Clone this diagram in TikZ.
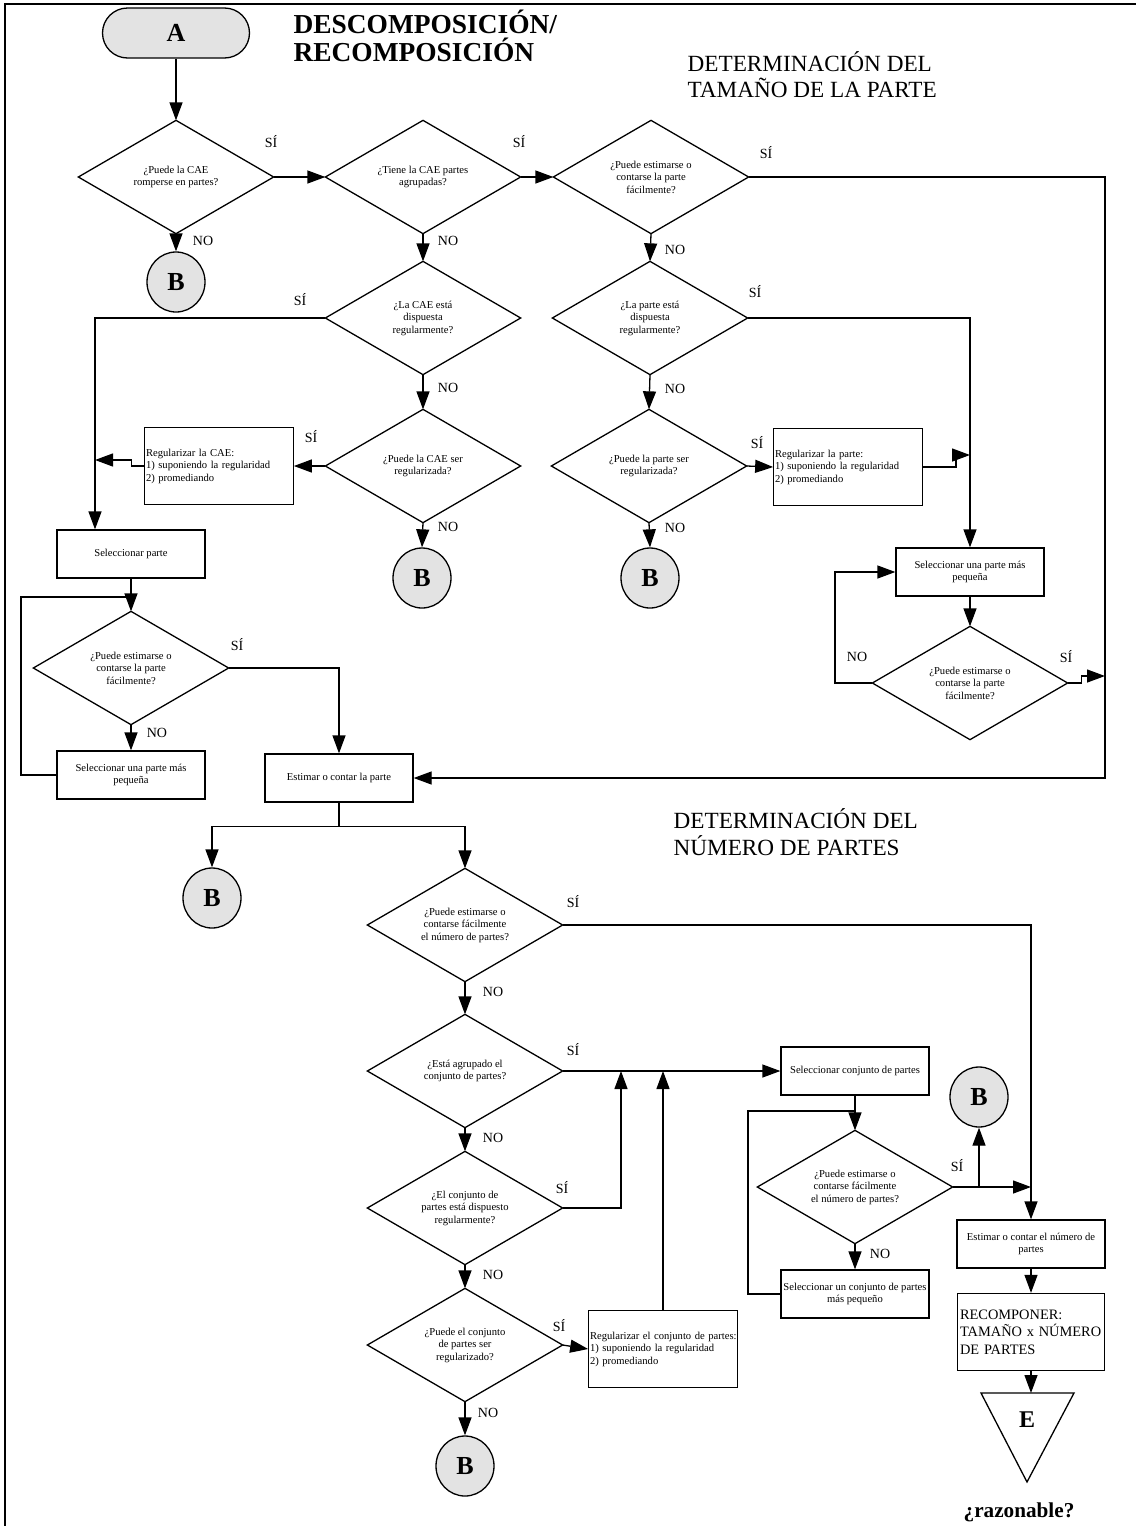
\documentclass[tikz,border=0pt]{standalone}
\usepackage{fontspec}
\setmainfont{Liberation Serif}
\usetikzlibrary{shapes.geometric,arrows.meta,calc}
\newcommand{\smtxt}{\fontsize{5.3}{6.25}\selectfont}
\begin{document}
\begin{tikzpicture}[x=0.5pt,y=-0.5pt,line width=0.65pt,
  arr/.style={-{Triangle[length=9pt,width=6.5pt]}},
  dia/.style={rectangle,minimum width=97pt,minimum height=56pt,inner sep=0pt,align=center,font=\smtxt},
  box/.style={rectangle,draw,minimum width=74pt,minimum height=24pt,inner sep=1pt,align=center,font=\smtxt},
  rbox/.style={rectangle,draw,text width=73pt,minimum height=38.5pt,inner xsep=0.6pt,inner ysep=1pt,align=left,font=\smtxt},
  conn/.style={ellipse,draw,fill=gray!22,minimum width=29pt,minimum height=30pt,inner sep=0pt,font=\bfseries\fontsize{13}{13}\selectfont},
  term/.style={draw,fill=gray!22,rounded corners=12.5pt,minimum width=73.5pt,minimum height=25pt,inner sep=0pt,font=\bfseries\fontsize{13}{13}\selectfont},
  lab/.style={inner sep=0pt,font=\fontsize{7}{7}\selectfont},
  ttlb/.style={anchor=base west,inner sep=0pt,font=\bfseries\fontsize{13.7}{14}\selectfont},
  ttl/.style={anchor=base west,inner sep=0pt,font=\fontsize{11.6}{12}\selectfont}]
\path[use as bounding box,fill=white] (0,0) rectangle (1136,1526);
\draw (5,1526) -- (5,4) -- (1136,4);

% titles
\node[ttlb] (T1a) at (293,33) {DESCOMPOSICIÓN/};
\node[ttlb] (T1b) at (293,61) {RECOMPOSICIÓN};
\node[ttl] (T2a) at (687,71) {DETERMINACIÓN DEL};
\node[ttl] (T2b) at (687,97) {TAMAÑO DE LA PARTE};
\node[ttl] (T3a) at (673,828) {DETERMINACIÓN DEL};
\node[ttl] (T3b) at (673,855) {NÚMERO DE PARTES};

% nodes
\node[term] (A) at (176,33) {A};
\node[dia] (D1) at (176,177) {¿Puede la CAE\\romperse en partes?};
\node[dia] (D2) at (423,177) {¿Tiene la CAE partes\\agrupadas?};
\node[dia] (D5) at (651,177) {¿Puede estimarse o\\contarse la parte\\fácilmente?};
\node[conn] (B1) at (176,282) {B};
\node[dia] (D3) at (423,318) {¿La CAE está\\dispuesta\\regularmente?};
\node[dia] (D4) at (423,466) {¿Puede la CAE ser\\regularizada?};
\node[dia] (D6) at (650,318) {¿La parte está\\dispuesta\\regularmente?};
\node[dia] (D7) at (649,466) {¿Puede la parte ser\\regularizada?};
\node[rbox] (RC) at (219,466) {Regularizar la CAE:\\1) suponiendo la regularidad\\2) promediando};
\node[rbox] (RP) at (848,467) {Regularizar la parte:\\1) suponiendo la regularidad\\2) promediando};
\node[conn] (B2) at (422,578) {B};
\node[conn] (B3) at (650,578) {B};
\node[box] (SP) at (131,554) {Seleccionar parte};
\node[box] (SR) at (970,572) {Seleccionar una parte más\\pequeña};
\node[dia] (D8) at (131,668) {¿Puede estimarse o\\contarse la parte\\fácilmente?};
\node[dia] (D10) at (970,683) {¿Puede estimarse o\\contarse la parte\\fácilmente?};
\node[box] (SL) at (131,775) {Seleccionar una parte más\\pequeña};
\node[box] (ES) at (339,778) {Estimar o contar la parte};
\node[conn] (B4) at (212,898) {B};
\node[dia] (D9) at (465,925) {¿Puede estimarse o\\contarse fácilmente\\el número de partes?};
\node[dia] (D11) at (465,1071) {¿Está agrupado el\\conjunto de partes?};
\node[dia] (D12) at (465,1208) {¿El conjunto de\\partes está dispuesto\\regularmente?};
\node[dia] (D13) at (465,1345) {¿Puede el conjunto\\de partes ser\\regularizado?};
\node[rbox] (RCJ) at (663,1349) {\mbox{Regularizar el conjunto de partes:}\\1) suponiendo la regularidad\\2) promediando};
\node[conn] (B5) at (465,1466) {B};
\node[box] (SC) at (855,1071) {Seleccionar conjunto de partes};
\node[dia] (D14) at (855,1187) {¿Puede estimarse o\\contarse fácilmente\\el número de partes?};
\node[box] (SU) at (855,1294) {Seleccionar un conjunto de partes\\más pequeño};
\node[conn] (B6) at (979,1097) {B};
\node[box] (EN) at (1031,1244) {Estimar o contar el número de\\partes};
\node[rectangle,draw,text width=71pt,minimum height=38.5pt,inner xsep=1.2pt,align=left,font=\fontsize{7.2}{8.7}\selectfont] (RC2) at (1031,1332) {RECOMPONER:\\TAMAÑO x NÚMERO\\DE PARTES};
\draw (981,1393) -- (1074,1393) -- (1027,1482) -- cycle;
\coordinate (Etop) at (1031,1393);
\node[inner sep=0pt,font=\bfseries\fontsize{12}{12}\selectfont] (E) at (1027,1420) {E};
\node[inner sep=0pt,font=\bfseries\fontsize{10.6}{11}\selectfont] (raz) at (1019,1512) {¿razonable?};

% diamonds
\foreach \n in {D1,D2,D3,D4,D5,D6,D7,D8,D9,D10,D11,D12,D13,D14}
  \draw (\n.north) -- (\n.east) -- (\n.south) -- (\n.west) -- cycle;

% helper coordinates
\coordinate (v1) at (95,0);
\coordinate (j1) at (95,460);
\coordinate (L1) at (21,597);
\coordinate (R1) at (1105,0);
\coordinate (j2) at (970,455);
\coordinate (L2) at (835,0);
\coordinate (j3) at (1105,676);
\coordinate (j4) at (621,1071);
\coordinate (j5) at (663,1071);
\coordinate (L3) at (748,1111);
\coordinate (j6) at (1031,1187);

% connectors
\draw[arr] (A) -- (D1);
\draw[arr] (D1.east) -- (D2.west);
\draw[arr] (D1.south) -- (B1.north);
\draw[arr] (D2.east) -- (D5.west);
\draw[arr] (D2.south) -- (D3.north);
\draw[arr] (D3.west) -| (v1 |- SP.north);
\draw[arr] (D3.south) -- (D4.north);
\draw[arr] (D4.west) -- (RC.east);
\draw[arr] (RC.west) -- ++(-13,0) |- (j1);
\draw[arr] (D4.south) -- (B2.north);
\draw[arr] (SP.south) -- (D8.north);
\draw (SL.west) -| (L1) -- (L1 -| SP.south);
\draw[arr] (D8.east) -| (ES.north);
\draw[arr] (D8.south) -- (SL.north);
\draw[arr] (D5.east) -| (R1 |- ES.east) -- (ES.east);
\draw[arr] (D5.south) -- (D6.north);
\draw[arr] (D6.east) -| (SR.north);
\draw[arr] (D6.south) -- (D7.north);
\draw[arr] (D7.east) -- (RP.west);
\draw[arr] (RP.east) -- ++(33,0) |- (j2);
\draw[arr] (D7.south) -- (B3.north);
\draw[arr] (SR.south) -- (D10.north);
\draw[arr] (D10.west) -| (L2 |- SR.west) -- (SR.west);
\draw[arr] (D10.east) -- ++(14,0) |- (j3);
\draw[arr] (ES.south) -- ++(0,24) -| (B4.north);
\draw[arr] (ES.south) -- ++(0,24) -| (D9.north);
\draw[arr] (D9.east) -| (EN.north);
\draw[arr] (D9.south) -- (D11.north);
\draw[arr] (D11.east) -- (SC.west);
\draw[arr] (D11.south) -- (D12.north);
\draw[arr] (D12.east) -| (j4);
\draw[arr] (D12.south) -- (D13.north);
\draw[arr] (D13.east) -- (RCJ.west);
\draw[arr] (RCJ.north) -- (j5);
\draw[arr] (D13.south) -- (B5.north);
\draw[arr] (SC.south) -- (D14.north);
\draw (SU.west) -| (L3) -- (L3 -| SC.south);
\draw[arr] (D14.east) -- (j6);
\draw[arr] (D14.east -| B6.south) -- (B6.south);
\draw[arr] (D14.south) -- (SU.north);
\draw[arr] (EN.south) -- (RC2.north);
\draw[arr] (RC2.south) -- (Etop);

% labels
\foreach \p in {(271,142),(519,142),(766,153),(300,300),(755,292),(311,437),(757,443),(237,645),(1066,657),(573,902),(573,1050),(562,1188),(559,1326),(957,1166)}
  \node[lab] at \p {SÍ};
\foreach \p in {(203,241),(448,241),(675,250),(448,388),(675,389),(448,527),(675,528),(157,733),(857,657),(493,992),(493,1138),(493,1275),(488,1413),(880,1254)}
  \node[lab] at \p {NO};
\end{tikzpicture}
\end{document}
